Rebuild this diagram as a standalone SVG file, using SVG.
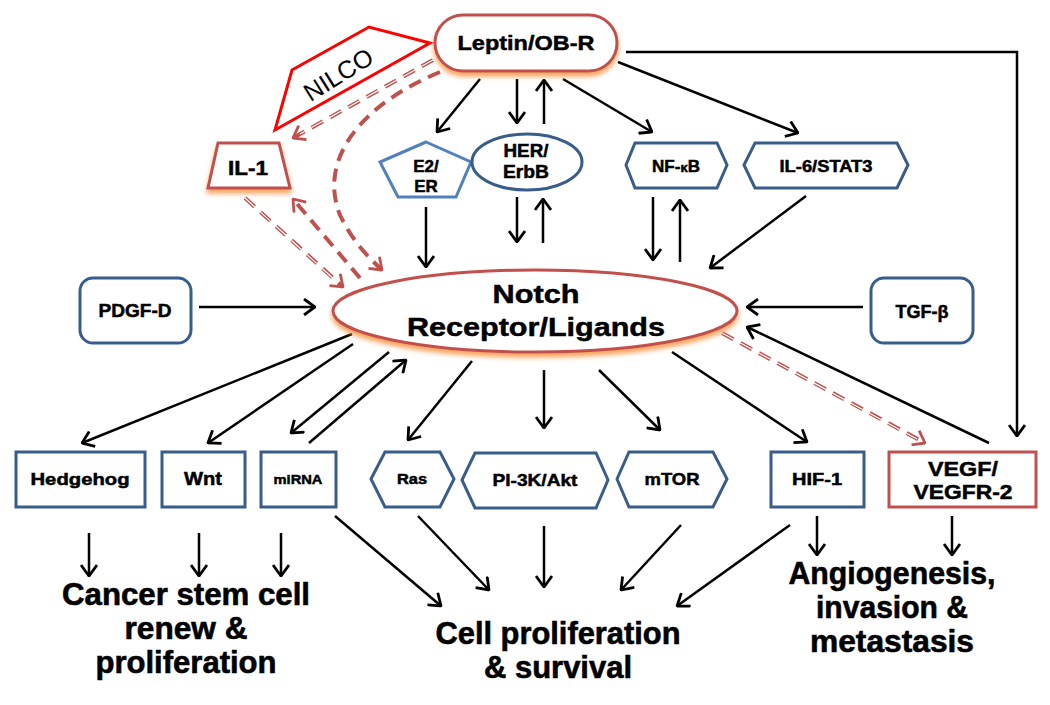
<svg xmlns="http://www.w3.org/2000/svg" width="1050" height="705" viewBox="0 0 1050 705">
<style>
.t{font-family:"Liberation Sans",Arial,sans-serif;font-weight:bold;text-anchor:middle;fill:#000;stroke:#000;stroke-width:0.5}
.big{font-family:"Liberation Sans Narrow","Liberation Sans",Arial,sans-serif;font-weight:bold;text-anchor:middle;fill:#000;stroke:#000;stroke-width:0.6;font-size:31px}
.bl{fill:#fff;stroke:#385d8a;stroke-width:3}
.bl2{fill:#fff;stroke:#4f81bd;stroke-width:3}
.rd{fill:#fff;stroke:#c0504d;stroke-width:3}
.c{fill:none;stroke:#000;stroke-width:2.5;marker-end:url(#ah)}
.d{fill:none;stroke:#c0504d;stroke-width:4;stroke-dasharray:13 8;marker-end:url(#ahr)}
.dd{fill:none;stroke:#c0504d;stroke-width:4;stroke-dasharray:13 8;marker-end:url(#ahr)}
.ddw{fill:none;stroke:#fff;stroke-width:1.2;stroke-dasharray:13 8}
</style>
<defs>
<marker id="ah" viewBox="0 0 13 18" refX="12" refY="9" markerWidth="13" markerHeight="18" markerUnits="userSpaceOnUse" orient="auto">
<path d="M1,1 L12,9 L1,17" fill="none" stroke="#000" stroke-width="2.8"/>
</marker>
<marker id="ahr" viewBox="0 0 13 18" refX="12" refY="9" markerWidth="13" markerHeight="18" markerUnits="userSpaceOnUse" orient="auto">
<path d="M1,1 L12,9 L1,17" fill="none" stroke="#c0504d" stroke-width="2.8"/>
</marker>
<filter id="glow" x="-10%" y="-20%" width="120%" height="160%">
<feDropShadow dx="0" dy="4" stdDeviation="2.5" flood-color="#f79646" flood-opacity="0.9"/>
</filter>
</defs>

<g id="connectors">
<line class="c" x1="480" y1="79" x2="437" y2="132"/>
<line class="c" x1="517" y1="79" x2="517" y2="123"/>
<line class="c" x1="544" y1="124" x2="544" y2="80"/>
<line class="c" x1="563" y1="79" x2="652" y2="132"/>
<line class="c" x1="618" y1="62" x2="798" y2="133"/>
<polyline class="c" points="626,52 1017,52 1017,436"/>
<line class="dd" x1="433" y1="60" x2="293" y2="138"/>
<line class="ddw" x1="433" y1="60" x2="300" y2="134"/>
<path class="d" d="M440,72 C 360,105 318,160 340,215 C 352,240 366,255 382,270"/>
<line class="dd" x1="245" y1="198" x2="343" y2="287"/>
<line class="ddw" x1="245" y1="198" x2="336" y2="281"/>
<line class="d" x1="360" y1="278" x2="293" y2="199"/>
<line class="c" x1="426" y1="207" x2="426" y2="267"/>
<line class="c" x1="517" y1="197" x2="517" y2="242"/>
<line class="c" x1="543" y1="243" x2="543" y2="199"/>
<line class="c" x1="653" y1="197" x2="653" y2="260"/>
<line class="c" x1="680" y1="262" x2="680" y2="200"/>
<line class="c" x1="806" y1="196" x2="710" y2="268"/>
<line class="c" x1="199" y1="307" x2="315" y2="307"/>
<line class="c" x1="863" y1="307" x2="747" y2="307"/>
<line class="c" x1="989" y1="443" x2="747" y2="327"/>
<line class="dd" x1="722" y1="333" x2="925" y2="443"/>
<line class="ddw" x1="722" y1="333" x2="917" y2="439"/>
<line class="c" x1="352" y1="334" x2="82" y2="443"/>
<line class="c" x1="353" y1="344" x2="208" y2="443"/>
<line class="c" x1="389" y1="352" x2="291" y2="433"/>
<line class="c" x1="309" y1="443" x2="406" y2="360"/>
<line class="c" x1="472" y1="361" x2="408" y2="440"/>
<line class="c" x1="544" y1="370" x2="544" y2="428"/>
<line class="c" x1="599" y1="370" x2="660" y2="430"/>
<line class="c" x1="672" y1="352" x2="807" y2="442"/>
<line class="c" x1="89" y1="533" x2="89" y2="576"/>
<line class="c" x1="199" y1="533" x2="199" y2="576"/>
<line class="c" x1="281" y1="533" x2="281" y2="576"/>
<line class="c" x1="335" y1="516" x2="441" y2="606"/>
<line class="c" x1="418" y1="516" x2="489" y2="590"/>
<line class="c" x1="544" y1="526" x2="544" y2="587"/>
<line class="c" x1="681" y1="525" x2="621" y2="590"/>
<line class="c" x1="790" y1="525" x2="677" y2="606"/>
<line class="c" x1="817" y1="516" x2="817" y2="555"/>
<line class="c" x1="952" y1="516" x2="952" y2="555"/>
</g>

<g id="nilco">
<polygon points="292,70 369,27 430,43 275,130" fill="#fff" stroke="#ff0000" stroke-width="3"/>
<text transform="translate(343,82) rotate(-32)" style="font-family:'Liberation Sans',Arial,sans-serif;font-size:25px;text-anchor:middle">NILCO</text>
</g>

<g id="leptin">
<rect class="rd" x="435" y="15" width="182" height="56" rx="28" filter="url(#glow)"/>
<text class="t" x="526" y="50" font-size="21" textLength="137" lengthAdjust="spacingAndGlyphs">Leptin/OB-R</text>
</g>

<g id="il1">
<polygon class="rd" points="218,143 279,143 290,188 208,188" filter="url(#glow)"/>
<text class="t" x="248" y="175" font-size="20" textLength="40" lengthAdjust="spacingAndGlyphs">IL-1</text>
</g>

<g id="e2er">
<polygon class="bl2" points="426,142 471,162 456,197 398,197 380,162"/>
<text class="t" x="426" y="172" font-size="17">E2/</text>
<text class="t" x="426" y="192" font-size="17">ER</text>
</g>

<g id="her">
<ellipse class="bl" cx="527" cy="162" rx="55" ry="28"/>
<text class="t" x="526" y="157" font-size="18" textLength="45" lengthAdjust="spacingAndGlyphs">HER/</text>
<text class="t" x="526" y="178" font-size="18" textLength="46" lengthAdjust="spacingAndGlyphs">ErbB</text>
</g>

<g id="nfkb">
<polygon class="bl" points="626,165 635,143 717,143 727,165 717,188 635,188"/>
<text class="t" x="676" y="172" font-size="17">NF-<tspan font-size="13">κ</tspan>B</text>
</g>

<g id="il6">
<polygon class="bl" points="744,165 755,143 897,143 908,165 897,188 755,188"/>
<text class="t" x="826" y="172" font-size="17" textLength="93" lengthAdjust="spacingAndGlyphs">IL-6/STAT3</text>
</g>

<g id="pdgf">
<rect class="bl" x="80" y="278" width="111" height="65" rx="13"/>
<text class="t" x="135" y="317" font-size="18" textLength="73" lengthAdjust="spacingAndGlyphs">PDGF-D</text>
</g>

<g id="tgf">
<rect class="bl" x="871" y="278" width="102" height="65" rx="13"/>
<text class="t" x="922" y="318" font-size="18">TGF-β</text>
</g>

<g id="notch">
<ellipse class="rd" cx="535" cy="311" rx="202" ry="41" filter="url(#glow)"/>
<text class="t" x="536" y="303" font-size="26" textLength="87" lengthAdjust="spacingAndGlyphs" stroke-width="0.9">Notch</text>
<text class="t" x="536" y="336" font-size="26" textLength="258" lengthAdjust="spacingAndGlyphs" stroke-width="0.9">Receptor/Ligands</text>
</g>

<g id="hedgehog">
<rect class="bl" x="16" y="452" width="129" height="55"/>
<text class="t" x="80" y="485" font-size="17" textLength="99" lengthAdjust="spacingAndGlyphs">Hedgehog</text>
</g>
<g id="wnt">
<rect class="bl" x="162" y="452" width="83" height="55"/>
<text class="t" x="203" y="485" font-size="18" textLength="38" lengthAdjust="spacingAndGlyphs">Wnt</text>
</g>
<g id="mirna">
<rect class="bl" x="261" y="452" width="75" height="55"/>
<text class="t" x="298" y="484" font-size="13.5" textLength="49" lengthAdjust="spacingAndGlyphs">miRNA</text>
</g>
<g id="ras">
<polygon class="bl" points="371,479 385,452 440,452 454,479 440,507 385,507"/>
<text class="t" x="412" y="484" font-size="14" textLength="30" lengthAdjust="spacingAndGlyphs">Ras</text>
</g>
<g id="pi3k">
<polygon class="bl" points="462,480 475,453 596,453 608,480 596,508 475,508"/>
<text class="t" x="535" y="486" font-size="17" textLength="85" lengthAdjust="spacingAndGlyphs">PI-3K/Akt</text>
</g>
<g id="mtor">
<polygon class="bl" points="617,479 629,452 713,452 727,479 713,507 629,507"/>
<text class="t" x="672" y="485" font-size="17" textLength="55" lengthAdjust="spacingAndGlyphs">mTOR</text>
</g>
<g id="hif1">
<rect class="bl" x="771" y="452" width="93" height="55"/>
<text class="t" x="817" y="485" font-size="17" textLength="50" lengthAdjust="spacingAndGlyphs">HIF-1</text>
</g>
<g id="vegf">
<rect class="rd" x="889" y="452" width="147" height="55"/>
<text class="t" x="963" y="476" font-size="21" textLength="70" lengthAdjust="spacingAndGlyphs">VEGF/</text>
<text class="t" x="963" y="499" font-size="21" textLength="99" lengthAdjust="spacingAndGlyphs">VEGFR-2</text>
</g>

<g id="outcome-csc">
<text class="big" x="186" y="605" textLength="248" lengthAdjust="spacingAndGlyphs">Cancer stem cell</text>
<text class="big" x="186" y="639" textLength="123" lengthAdjust="spacingAndGlyphs">renew &amp;</text>
<text class="big" x="186" y="673" textLength="181" lengthAdjust="spacingAndGlyphs">proliferation</text>
</g>
<g id="outcome-prolif">
<text class="big" x="558" y="644" textLength="245" lengthAdjust="spacingAndGlyphs">Cell proliferation</text>
<text class="big" x="558" y="678" textLength="148" lengthAdjust="spacingAndGlyphs">&amp; survival</text>
</g>
<g id="outcome-angio">
<text class="big" x="892" y="584" textLength="207" lengthAdjust="spacingAndGlyphs">Angiogenesis,</text>
<text class="big" x="892" y="618" textLength="152" lengthAdjust="spacingAndGlyphs">invasion &amp;</text>
<text class="big" x="892" y="652" textLength="164" lengthAdjust="spacingAndGlyphs">metastasis</text>
</g>
</svg>
